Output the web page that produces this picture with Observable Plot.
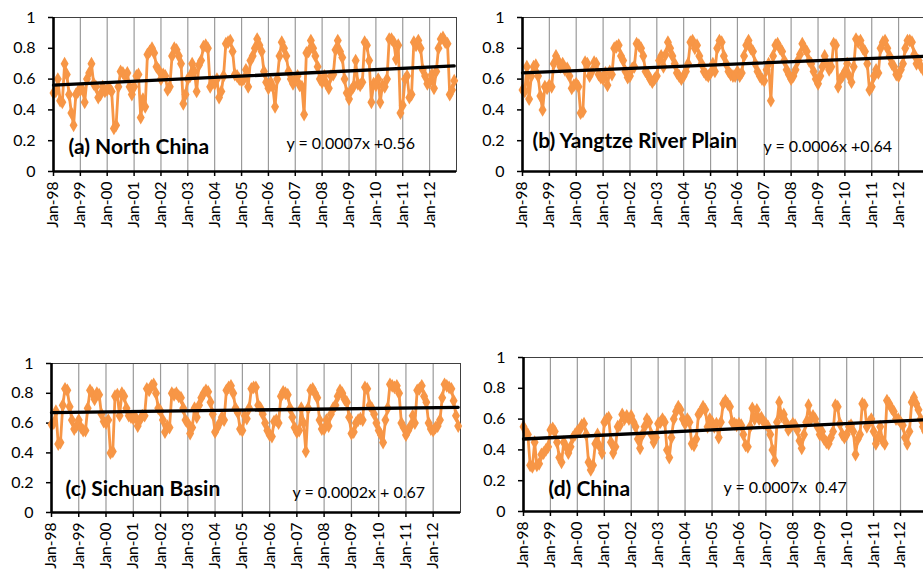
<!DOCTYPE html>
<html><head><meta charset="utf-8">
<script src="https://cdn.jsdelivr.net/npm/d3@7"></script>
<script src="https://cdn.jsdelivr.net/npm/@observablehq/plot@0.6"></script>
<style>
body{margin:0;background:#fff;}
#wrap{position:relative;width:923px;height:576px;overflow:hidden;background:#fff;font-family:Lato,"Open Sans",sans-serif;}
.panel{position:absolute;}
.panel svg{overflow:visible;max-width:none !important;}
</style></head><body><div id="wrap"></div>
<script>
// ---- data ----
const startDate = new Date(Date.UTC(1998, 0, 1));
const endDate = new Date(Date.UTC(2013, 0, 1));
const months = d3.utcMonths(startDate, endDate);          // Jan-98 .. Dec-12 (180 months)
const yearTicks = d3.utcYears(startDate, endDate);        // Jan-98 .. Jan-12
const yTicks = [0, 0.2, 0.4, 0.6, 0.8, 1];

const titles = ["(a) North China", "(b) Yangtze River Plain", "(c) Sichuan Basin", "(d) China"];
const equations = ["y = 0.0007x +0.56", "y = 0.0006x +0.64", "y = 0.0002x + 0.67", "y = 0.0007x\u00a0\u00a00.47"];
const slopes = [0.0007, 0.0006, 0.0002, 0.0007];
const intercepts = [0.56, 0.64, 0.67, 0.47];

const northChina = [
  0.51,0.52,0.60,0.46,0.45,0.70,0.63,0.50,0.38,0.30,0.50,0.52,
  0.53,0.53,0.45,0.60,0.64,0.70,0.57,0.55,0.48,0.50,0.55,0.52,
  0.53,0.54,0.52,0.28,0.30,0.55,0.65,0.64,0.62,0.64,0.55,0.50,
  0.55,0.62,0.63,0.35,0.47,0.42,0.76,0.78,0.80,0.77,0.68,0.66,
  0.60,0.63,0.62,0.53,0.55,0.75,0.80,0.79,0.75,0.70,0.44,0.50,
  0.60,0.62,0.70,0.65,0.52,0.69,0.72,0.81,0.82,0.80,0.55,0.58,
  0.57,0.60,0.48,0.52,0.62,0.83,0.84,0.85,0.78,0.63,0.62,0.60,
  0.59,0.60,0.66,0.55,0.72,0.75,0.80,0.86,0.82,0.78,0.65,0.58,
  0.54,0.58,0.55,0.42,0.60,0.75,0.84,0.80,0.75,0.65,0.60,0.57,
  0.60,0.62,0.56,0.55,0.37,0.77,0.78,0.85,0.80,0.75,0.68,0.60,
  0.58,0.62,0.57,0.54,0.62,0.63,0.79,0.85,0.78,0.74,0.60,0.51,
  0.47,0.53,0.55,0.72,0.57,0.56,0.58,0.84,0.82,0.72,0.45,0.57,
  0.56,0.60,0.45,0.56,0.55,0.60,0.86,0.86,0.84,0.73,0.82,0.38,
  0.43,0.60,0.62,0.48,0.50,0.84,0.82,0.85,0.80,0.66,0.62,0.57,
  0.58,0.63,0.54,0.65,0.80,0.86,0.87,0.84,0.83,0.50,0.53,0.59
];
const yangtze = [
  0.53,0.52,0.68,0.47,0.62,0.68,0.69,0.62,0.49,0.40,0.55,0.54,
  0.56,0.55,0.70,0.75,0.72,0.68,0.70,0.66,0.67,0.62,0.54,0.56,
  0.57,0.55,0.38,0.39,0.71,0.70,0.62,0.65,0.71,0.70,0.63,0.61,
  0.60,0.64,0.56,0.65,0.63,0.80,0.81,0.82,0.75,0.72,0.65,0.61,
  0.62,0.67,0.68,0.83,0.82,0.80,0.75,0.65,0.63,0.60,0.58,0.60,
  0.62,0.72,0.75,0.68,0.76,0.84,0.80,0.75,0.70,0.64,0.62,0.60,
  0.62,0.65,0.70,0.84,0.85,0.80,0.82,0.75,0.70,0.65,0.63,0.62,
  0.64,0.70,0.65,0.80,0.85,0.84,0.75,0.70,0.65,0.63,0.62,0.62,
  0.65,0.62,0.64,0.75,0.82,0.85,0.80,0.78,0.70,0.65,0.62,0.60,
  0.59,0.66,0.70,0.46,0.75,0.82,0.83,0.80,0.78,0.72,0.66,0.63,
  0.60,0.62,0.66,0.72,0.76,0.83,0.80,0.78,0.72,0.70,0.65,0.60,
  0.57,0.62,0.68,0.75,0.70,0.66,0.68,0.83,0.82,0.55,0.60,0.62,
  0.65,0.70,0.62,0.58,0.68,0.86,0.84,0.85,0.80,0.78,0.70,0.53,
  0.55,0.62,0.66,0.64,0.80,0.84,0.85,0.80,0.75,0.70,0.68,0.63,
  0.62,0.66,0.70,0.80,0.85,0.85,0.84,0.76,0.70,0.72,0.68,0.66
];
const sichuan = [
  0.59,0.60,0.68,0.46,0.47,0.72,0.83,0.82,0.71,0.62,0.56,0.58,
  0.62,0.57,0.55,0.55,0.70,0.82,0.80,0.76,0.80,0.79,0.66,0.61,
  0.60,0.62,0.40,0.41,0.78,0.79,0.65,0.80,0.78,0.70,0.65,0.64,
  0.63,0.64,0.58,0.62,0.65,0.65,0.83,0.82,0.85,0.86,0.80,0.70,
  0.68,0.62,0.54,0.58,0.57,0.80,0.79,0.80,0.78,0.77,0.70,0.62,
  0.60,0.53,0.57,0.70,0.64,0.72,0.77,0.80,0.82,0.81,0.74,0.66,
  0.54,0.57,0.60,0.64,0.62,0.82,0.84,0.85,0.80,0.70,0.67,0.56,
  0.55,0.65,0.63,0.70,0.83,0.84,0.84,0.72,0.70,0.66,0.60,0.55,
  0.52,0.51,0.61,0.62,0.60,0.78,0.81,0.80,0.79,0.70,0.64,0.57,
  0.54,0.55,0.70,0.60,0.41,0.70,0.82,0.83,0.80,0.77,0.62,0.56,
  0.56,0.62,0.58,0.66,0.70,0.72,0.78,0.82,0.80,0.76,0.74,0.64,
  0.53,0.54,0.60,0.62,0.63,0.62,0.84,0.83,0.72,0.70,0.66,0.60,
  0.55,0.52,0.47,0.62,0.70,0.86,0.85,0.84,0.85,0.80,0.60,0.57,
  0.52,0.55,0.58,0.65,0.60,0.82,0.83,0.85,0.78,0.74,0.60,0.56,
  0.55,0.57,0.58,0.62,0.77,0.86,0.85,0.84,0.83,0.75,0.65,0.58
];
const china = [
  0.55,0.52,0.50,0.30,0.29,0.45,0.30,0.31,0.37,0.38,0.40,0.42,
  0.53,0.54,0.52,0.45,0.35,0.32,0.45,0.42,0.38,0.42,0.48,0.50,
  0.52,0.53,0.56,0.57,0.50,0.32,0.27,0.30,0.44,0.50,0.42,0.38,
  0.58,0.60,0.61,0.45,0.38,0.42,0.55,0.56,0.63,0.60,0.62,0.60,
  0.62,0.58,0.55,0.47,0.41,0.50,0.55,0.60,0.58,0.50,0.45,0.48,
  0.57,0.58,0.60,0.58,0.40,0.35,0.48,0.60,0.65,0.68,0.66,0.60,
  0.57,0.60,0.58,0.44,0.43,0.47,0.63,0.65,0.68,0.66,0.55,0.60,
  0.58,0.55,0.57,0.48,0.58,0.70,0.72,0.70,0.68,0.58,0.57,0.56,
  0.57,0.56,0.50,0.43,0.42,0.55,0.67,0.60,0.66,0.60,0.61,0.58,
  0.57,0.55,0.50,0.40,0.33,0.58,0.71,0.62,0.63,0.58,0.53,0.55,
  0.57,0.56,0.53,0.46,0.41,0.50,0.58,0.69,0.60,0.62,0.60,0.55,
  0.50,0.52,0.47,0.45,0.44,0.48,0.52,0.69,0.68,0.57,0.50,0.48,
  0.50,0.55,0.56,0.52,0.37,0.47,0.50,0.70,0.69,0.55,0.58,0.60,
  0.52,0.44,0.48,0.55,0.46,0.44,0.72,0.70,0.67,0.65,0.60,0.60,
  0.58,0.56,0.48,0.44,0.52,0.71,0.74,0.70,0.66,0.60,0.55,0.52
];
const seriesList = [northChina, yangtze, sichuan, china];

// ---- layout (plot-frame origin and size per panel) ----
const frames = [
  {left: 53,  top: 17,  w: 403, h: 154, title: [15, -18], eq: [233, -23]},
  {left: 522, top: 17,  w: 403, h: 154, title: [10, -24], eq: [241, -20]},
  {left: 51,  top: 363, w: 409, h: 149, title: [14, -17], eq: [241, -15]},
  {left: 523, top: 357, w: 404, h: 154, title: [25, -16], eq: [200, -19]}
];
const ORANGE = "#F79646";
const ML = 55, MT = 25, MR = 20, MB = 70;

const wrap = document.getElementById("wrap");
seriesList.forEach((vals, k) => {
  const f = frames[k];
  const data = months.map((d, i) => ({date: d, value: vals[i]}));
  const trend = [0, months.length - 1].map(i => ({date: months[i], value: intercepts[k] + slopes[k] * (i + 1)}));
  const W = ML + f.w + MR, H = MT + f.h + MB;
  const chart = Plot.plot({
    width: W,
    height: H,
    marginLeft: ML, marginTop: MT, marginRight: MR, marginBottom: MB,
    style: {fontFamily: "Lato, 'Open Sans', sans-serif", background: "transparent", color: "#000"},
    x: {type: "utc", domain: [startDate, endDate], label: null},
    y: {domain: [0, 1], label: null},
    marks: [
      Plot.gridX(yearTicks.slice(1), {stroke: "#9a9a9a", strokeOpacity: 1, strokeWidth: 1.2}),
      Plot.frame({stroke: "#404040", strokeWidth: 1}),
      Plot.axisY({ticks: yTicks, tickFormat: d => String(d), label: null, tickSize: 5, tickPadding: 13, fontSize: 16, stroke: "#000", strokeWidth: 1.5}),
      Plot.axisX({ticks: yearTicks, tickFormat: d3.utcFormat("%b-%y"), label: null, tickRotate: -90, tickSize: 5, tickPadding: 5, fontSize: 15.5, stroke: "#000", strokeWidth: 1.5}),
      Plot.line(data, {x: "date", y: "value", stroke: ORANGE, strokeWidth: 2.8}),
      Plot.dot(data, {x: "date", y: "value", symbol: "diamond", r: 4.2, fill: ORANGE, stroke: null}),
      Plot.line(trend, {x: "date", y: "value", stroke: "#000", strokeWidth: 3.3}),
      Plot.ruleY([0], {stroke: "#000", strokeWidth: 2.6}),
      Plot.ruleX([startDate], {stroke: "#000", strokeWidth: 2.6}),
      Plot.text([titles[k]], {text: d => d, frameAnchor: "bottom-left", textAnchor: "start", lineAnchor: "bottom", dx: f.title[0], dy: f.title[1], fontSize: 21, fontWeight: "bold", fill: "#000"}),
      Plot.text([equations[k]], {text: d => d, frameAnchor: "bottom-left", textAnchor: "start", lineAnchor: "bottom", dx: f.eq[0], dy: f.eq[1], fontSize: 16, fill: "#000"})
    ]
  });
  const div = document.createElement("div");
  div.className = "panel";
  div.style.left = (f.left - ML) + "px";
  div.style.top = (f.top - MT) + "px";
  div.style.width = W + "px";
  div.style.height = H + "px";
  div.appendChild(chart);
  wrap.appendChild(div);
});
</script></body></html>
